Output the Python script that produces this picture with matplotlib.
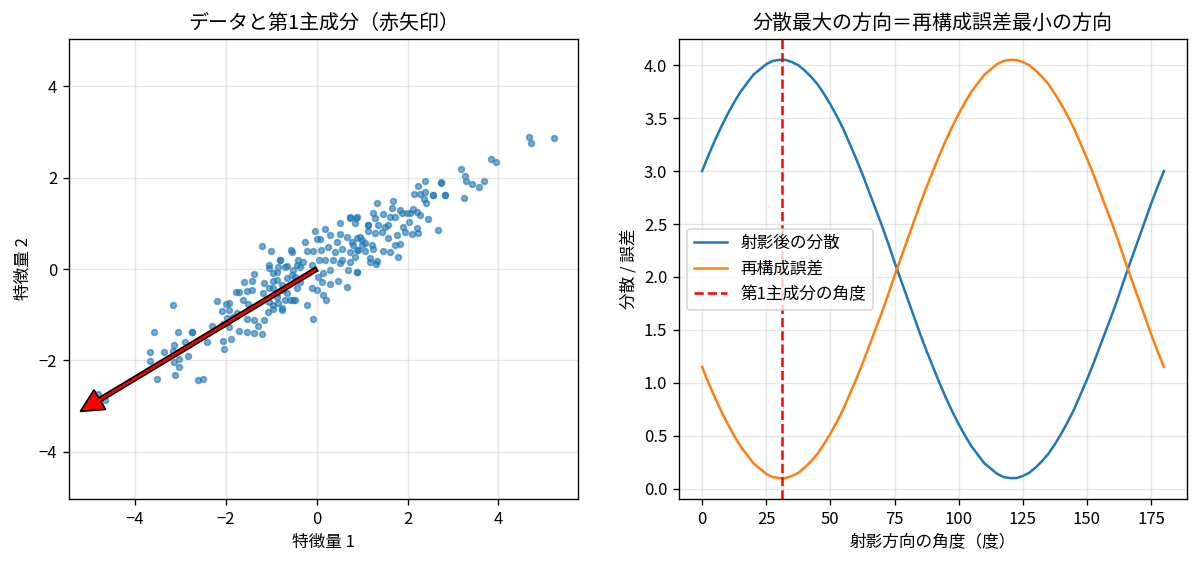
import matplotlib
matplotlib.use('Agg')
import matplotlib.pyplot as plt
import numpy as np

plt.rcParams['font.family'] = ['Noto Sans CJK JP', 'DejaVu Sans']
plt.rcParams['axes.unicode_minus'] = True

# data points (feature 1, feature 2)
pts_x = [-3.17, -3.57, -3.06, -2.75, -3.13, -2.90, -3.66, -3.35, -3.17, -3.66, -3.13, -3.02,
         -2.84, -3.04, -3.52, -3.11, -2.62, -4.82, -4.65,
         -0.81, -0.55, -1.06, -0.86, -0.66, -1.37, -0.97, -0.55, -0.44, -1.59, -1.43, -1.15,
         -0.97, -0.77, -1.78, -1.70, -1.54, -1.43, -1.19, -1.04, -0.88, -0.66, -0.59, -0.48,
         -2.20, -2.00, -1.92, -1.63, -1.52, -1.04, -0.86, -2.09, -1.92, -1.76, -1.08, -0.97,
         -0.77, -1.98, -1.54, -1.37, -1.15, -2.07, -1.92, -1.30, -1.70, -1.54, -1.37, -1.21,
         -2.75, -2.42, -2.07, -1.89, -2.03,
         0.73, 0.88, 0.51, 0.84, 1.12, -0.04, 0.18, 0.51, 0.66, 0.95, 0.00, 0.07, 0.44, 0.77,
         0.99, -0.57, -0.22, -0.09, 0.09, 0.26, 0.40, 0.55, 0.73, 0.90, -0.81, -0.42, -0.31,
         -0.11, 0.04, 0.18, 0.35, 0.55, 0.73, 0.51, 0.88, 0.68, -1.04, -0.88, -0.70, -0.53,
         -0.37, 0.29, 0.13, -0.88, -0.66, -0.48, -0.37, 0.02, 0.11, 0.29, 0.46, 0.66, -0.97,
         -0.75, -0.44, -0.11, 0.00, -0.88, -0.70, -0.53, 0.13, 0.20, -0.97, -0.77, -0.22, -0.09,
         2.38, 2.73, 2.22, 2.14, 2.27, 2.38, 2.56, 2.82, 2.36, 2.40, 1.67, 1.32, 1.65, 2.11,
         1.83, 2.20, 1.23, 1.45, 1.61, 1.72, 1.87, 1.98, 2.05, 2.27, 2.44, 1.28, 0.86, 0.73,
         1.12, 1.34, 1.50, 1.56, 1.89, 2.03, 2.20, 2.67, 1.12, 1.28, 1.43, 1.76, 1.94, 2.09,
         2.22, 0.88, 0.99, 1.56, 0.79, 1.06, 1.21, 1.72, 1.83, 0.88, 1.06, 1.23, 1.45, 1.61,
         0.84, 1.17, 1.32, 1.78, 1.17, 1.30, 0.88,
         4.67, 4.71, 5.22, 3.83, 3.94, 3.17, 3.26, 3.28, 3.41, 3.68, 3.57, 2.73, 2.56, 2.82,
         3.24, -1.00, -1.20, -2.50, -2.30, -1.85, -0.25, 0.30]
pts_y = [-0.79, -1.38, -1.38, -1.38, -1.66, -1.60, -1.82, -1.82, -1.79, -2.01, -2.03, -1.97,
         -1.90, -2.14, -2.41, -2.32, -2.43, -2.74, -2.87,
         0.20, 0.37, 0.02, 0.04, 0.07, -0.11, -0.09, -0.13, 0.09, -0.28, -0.26, -0.31,
         -0.26, -0.35, -0.50, -0.50, -0.48, -0.46, -0.53, -0.42, -0.53, -0.53, -0.68, -0.68,
         -0.70, -0.77, -0.74, -0.68, -0.77, -0.72, -0.74, -0.92, -0.90, -0.96, -0.94, -0.88,
         -0.90, -1.07, -1.09, -1.12, -1.12, -1.20, -1.27, -1.25, -1.36, -1.38, -1.40, -1.42,
         -1.38, -1.60, -1.58, -1.53, -1.75,
         1.14, 1.14, 1.00, 1.00, 0.96, 0.83, 0.88, 0.77, 0.70, 0.70, 0.66, 0.66, 0.59, 0.59,
         0.53, 0.42, 0.39, 0.39, 0.42, 0.48, 0.37, 0.44, 0.37, 0.42, 0.20, 0.20, 0.15,
         0.09, 0.20, 0.20, 0.20, 0.20, 0.15, 0.13, -0.07, -0.02, 0.09, -0.07, 0.04, -0.02,
         0.04, -0.02, -0.09, -0.24, -0.20, -0.18, -0.28, -0.18, -0.28, -0.33, -0.26, -0.39, -0.42,
         -0.46, -0.42, -0.42, -0.46, -0.61, -0.68, -0.68, -0.57, -0.68, -0.79, -0.85, -0.79, -1.09,
         1.93, 1.88, 1.82, 1.64, 1.64, 1.68, 1.62, 1.62, 1.53, 1.44, 1.49, 1.44, 1.33, 1.31,
         1.29, 1.25, 1.23, 1.20, 1.14, 1.14, 1.23, 1.23, 1.23, 1.18, 1.09, 1.12, 1.12, 1.12,
         0.96, 0.96, 0.92, 0.96, 0.92, 1.03, 0.90, 0.85, 0.83, 0.79, 0.81, 0.74, 0.81, 0.77,
         0.79, 0.68, 0.63, 0.68, 0.53, 0.57, 0.53, 0.53, 0.55, 0.42, 0.39, 0.44, 0.39, 0.37,
         0.26, 0.24, 0.18, 0.26, 0.15, 0.11, -0.07,
         2.89, 2.76, 2.87, 2.41, 2.34, 2.19, 2.03, 1.93, 1.86, 1.93, 1.79, 1.90, 1.62, 1.62,
         1.55, 0.40, 0.50, -2.40, -1.25, -1.05, 0.60, 0.75]

# first principal component arrow (scaled)
pc1_vec = [-5.20, -3.12]

# angle sweep, read every 2.5 degrees
angles = [i * 2.5 for i in range(73)]
proj_var = [3.00, 3.15, 3.29, 3.42, 3.54, 3.65, 3.75, 3.83, 3.91, 3.96, 4.01, 4.04, 4.05,
            4.05, 4.03, 4.00, 3.95, 3.89, 3.82, 3.73, 3.63, 3.52, 3.40, 3.26, 3.12, 2.97,
            2.81, 2.65, 2.49, 2.32, 2.14, 1.97, 1.80, 1.63, 1.46, 1.30, 1.15, 1.00, 0.86,
            0.73, 0.61, 0.50, 0.40, 0.32, 0.24, 0.19, 0.14, 0.11, 0.10, 0.10, 0.12, 0.15,
            0.20, 0.26, 0.33, 0.42, 0.52, 0.63, 0.75, 0.89, 1.03, 1.18, 1.34, 1.50, 1.66,
            1.83, 2.01, 2.18, 2.35, 2.52, 2.69, 2.85, 3.00]
recon_err = [1.15, 1.00, 0.86, 0.73, 0.61, 0.50, 0.40, 0.32, 0.24, 0.19, 0.14, 0.11, 0.10,
             0.10, 0.12, 0.15, 0.20, 0.26, 0.33, 0.42, 0.52, 0.63, 0.75, 0.89, 1.03, 1.18,
             1.34, 1.50, 1.66, 1.83, 2.01, 2.18, 2.35, 2.52, 2.69, 2.85, 3.00, 3.15, 3.29,
             3.42, 3.54, 3.65, 3.75, 3.83, 3.91, 3.96, 4.01, 4.04, 4.05, 4.05, 4.03, 4.00,
             3.95, 3.89, 3.82, 3.73, 3.63, 3.52, 3.40, 3.26, 3.12, 2.97, 2.81, 2.65, 2.49,
             2.32, 2.14, 1.97, 1.80, 1.63, 1.46, 1.30, 1.15]
pc1_angle = 31

W, H = 1197, 565
fig = plt.figure(figsize=(W / 120, H / 120), dpi=120)
ax1 = fig.add_axes([69 / W, 66 / H, 509 / W, 460 / H])
ax2 = fig.add_axes([679 / W, 66 / H, 508 / W, 460 / H])

# left: scatter + arrow
ax1.scatter(pts_x, pts_y, s=12, alpha=0.6, color='tab:blue')
ax1.arrow(0, 0, pc1_vec[0], pc1_vec[1], width=0.09, head_width=0.5, head_length=0.5,
          length_includes_head=True, fc='red', ec='black', lw=1.0, zorder=3)
ax1.set_xlim(-5.45, 5.75)
ax1.set_ylim(-5.04, 5.04)
ax1.set_xticks([-4, -2, 0, 2, 4])
ax1.set_yticks([-4, -2, 0, 2, 4])
ax1.grid(True, alpha=0.3)
ax1.set_title('データと第1主成分（赤矢印）')
ax1.set_xlabel('特徴量 1')
ax1.set_ylabel('特徴量 2')

# right: variance vs reconstruction error
ax2.plot(angles, proj_var, label='射影後の分散', color='tab:blue')
ax2.plot(angles, recon_err, label='再構成誤差', color='tab:orange')
ax2.axvline(pc1_angle, color='red', linestyle='--', label='第1主成分の角度')
ax2.set_xticks(range(0, 176, 25))
ax2.set_yticks(np.arange(0, 4.01, 0.5))
ax2.grid(True, alpha=0.3)
ax2.legend(loc='center left')
ax2.set_title('分散最大の方向＝再構成誤差最小の方向')
ax2.set_xlabel('射影方向の角度（度）')
ax2.set_ylabel('分散 / 誤差')

fig.savefig('out.png', dpi=120)
